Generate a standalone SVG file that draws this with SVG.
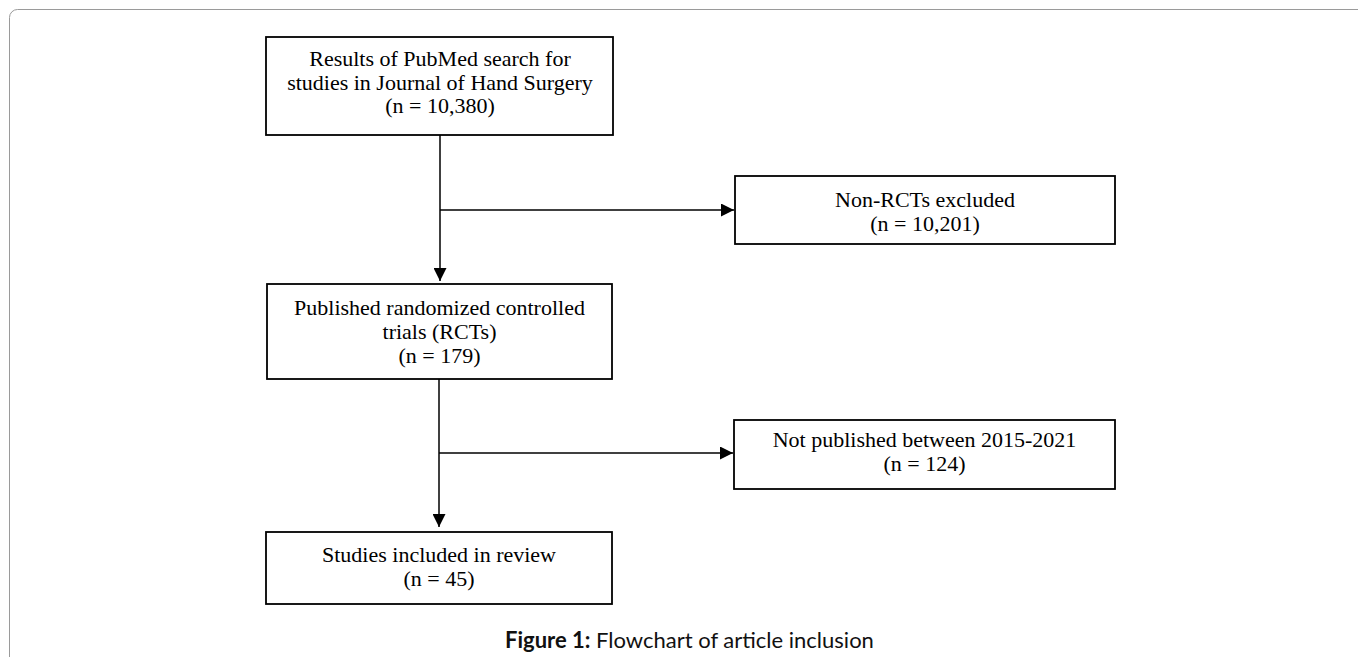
<svg xmlns="http://www.w3.org/2000/svg" width="1358" height="657" viewBox="0 0 1358 657">
<style>
.box{fill:#fff;stroke:#000;stroke-width:1.8}
.t{font-family:"Liberation Serif","Times New Roman",serif;font-size:22px;fill:#000;text-anchor:middle}
.c{stroke:#000;stroke-width:1.5;fill:none}
.cap{font-family:Lato,"Open Sans",sans-serif;font-size:22px;fill:#111}
</style>
<defs>
<marker id="ah" viewBox="0 0 13 13" refX="13" refY="6.5" markerWidth="13" markerHeight="13" markerUnits="userSpaceOnUse" orient="auto">
<path d="M0,0 L13,6.5 L0,13 Z" fill="#000"/>
</marker>
</defs>
<rect width="1358" height="657" fill="#fff"/>
<rect x="9.5" y="9.5" width="1420" height="720" rx="8" fill="none" stroke="#9a9a9a" stroke-width="1"/>
<g id="connectors">
<line class="c" x1="440" y1="135" x2="440" y2="281" marker-end="url(#ah)"/>
<line class="c" x1="440" y1="210" x2="734" y2="210" marker-end="url(#ah)"/>
<line class="c" x1="439" y1="379" x2="439" y2="527" marker-end="url(#ah)"/>
<line class="c" x1="439" y1="453" x2="733" y2="453" marker-end="url(#ah)"/>
</g>
<g id="n1">
<rect class="box" x="266" y="37" width="347" height="98"/>
<text class="t" x="440" y="66">Results of PubMed search for</text>
<text class="t" x="440" y="90">studies in Journal of Hand Surgery</text>
<text class="t" x="440" y="113">(n = 10,380)</text>
</g>
<g id="n2">
<rect class="box" x="735" y="176" width="380" height="68"/>
<text class="t" x="925" y="207">Non-RCTs excluded</text>
<text class="t" x="925" y="231">(n = 10,201)</text>
</g>
<g id="n3">
<rect class="box" x="267" y="284" width="345" height="95"/>
<text class="t" x="439.5" y="315">Published randomized controlled</text>
<text class="t" x="439.5" y="339">trials (RCTs)</text>
<text class="t" x="439.5" y="363">(n = 179)</text>
</g>
<g id="n4">
<rect class="box" x="734" y="420" width="381" height="69"/>
<text class="t" x="924.5" y="447">Not published between 2015-2021</text>
<text class="t" x="924.5" y="471">(n = 124)</text>
</g>
<g id="n5">
<rect class="box" x="266" y="532" width="346" height="72"/>
<text class="t" x="439" y="562">Studies included in review</text>
<text class="t" x="439" y="586">(n = 45)</text>
</g>
<text class="cap" x="505" y="648"><tspan font-weight="bold">Figure 1:</tspan> Flowchart of article inclusion</text>
</svg>
